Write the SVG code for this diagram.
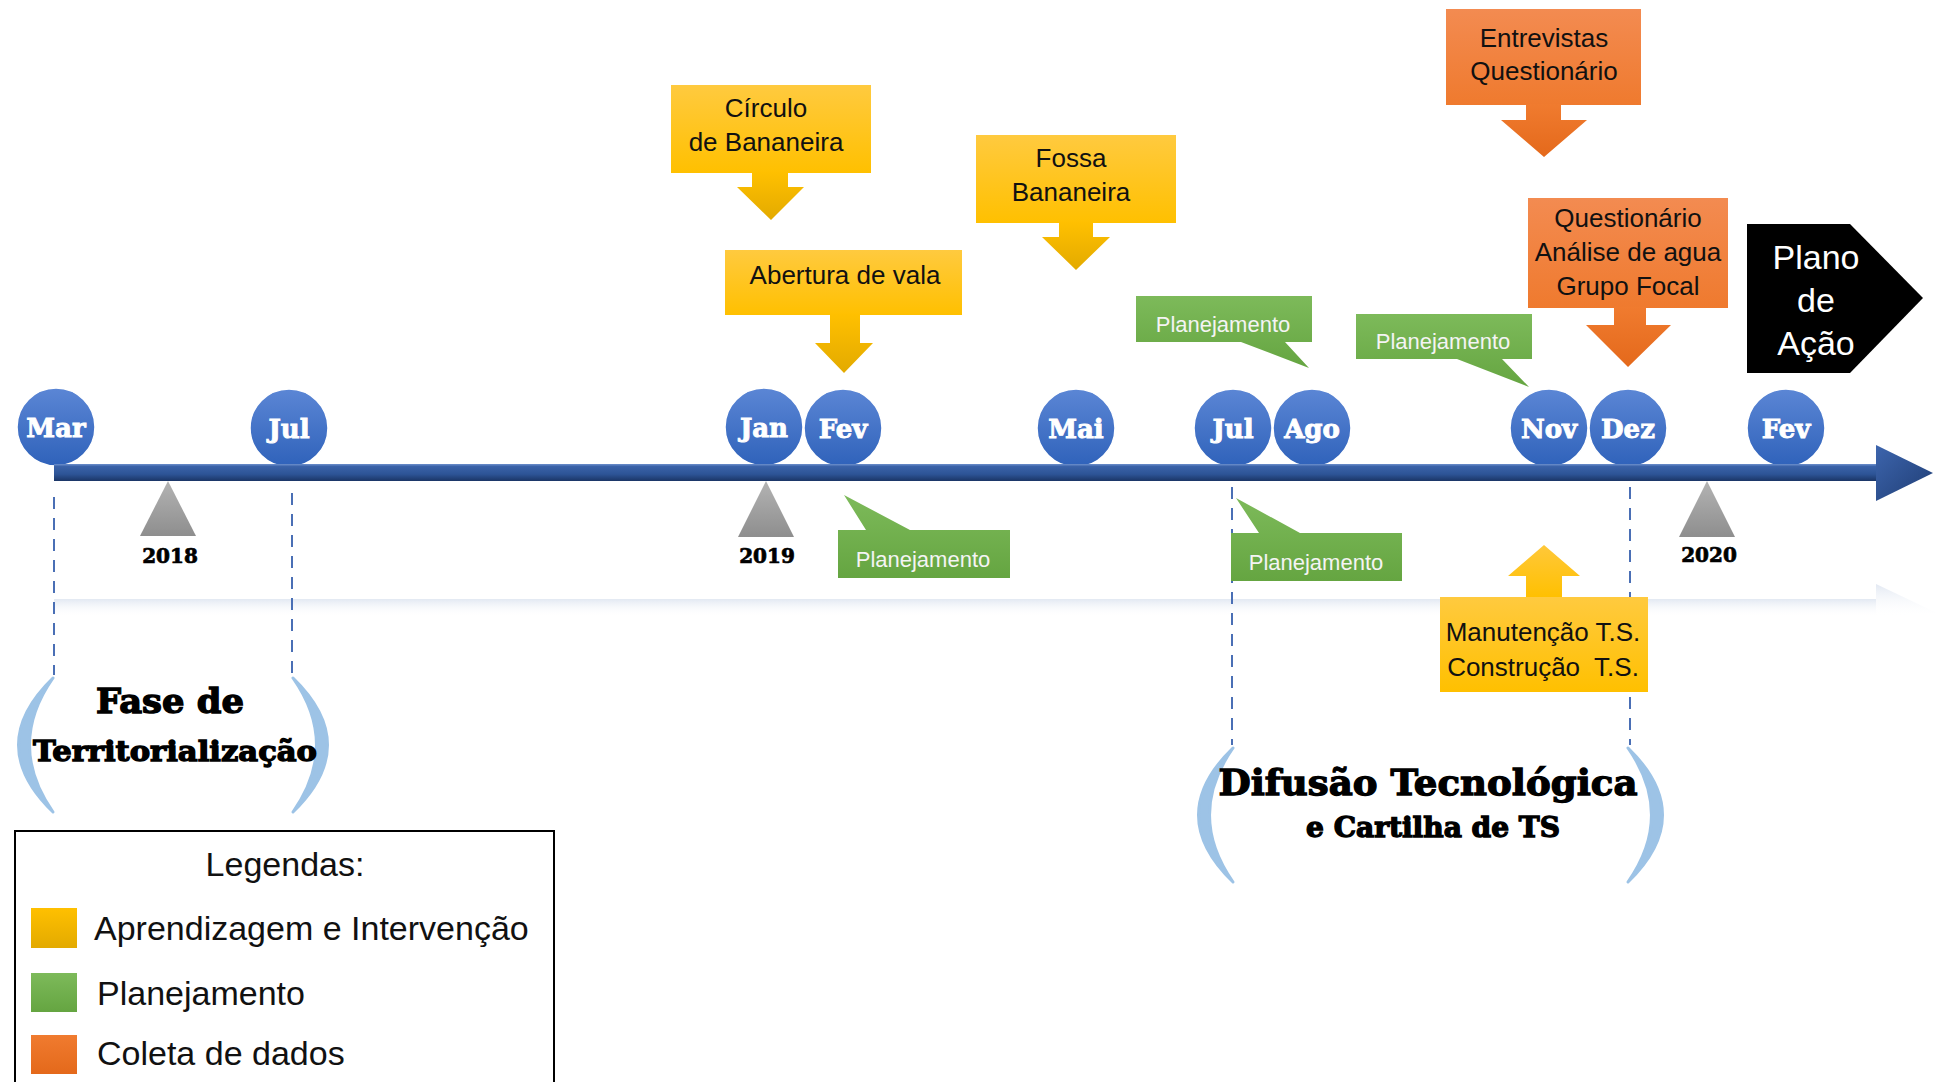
<svg xmlns="http://www.w3.org/2000/svg" width="1941" height="1082" viewBox="0 0 1941 1082">
  <defs>
    <linearGradient id="gYellow" x1="0" y1="0" x2="0" y2="1">
      <stop offset="0" stop-color="#ffca3f"/>
      <stop offset="1" stop-color="#ffc000"/>
    </linearGradient>
    <linearGradient id="gYellowArrow" x1="0" y1="0" x2="0" y2="1">
      <stop offset="0" stop-color="#ffc000"/>
      <stop offset="1" stop-color="#e3aa00"/>
    </linearGradient>
    <linearGradient id="gYellowUp" x1="0" y1="1" x2="0" y2="0">
      <stop offset="0" stop-color="#ffc000"/>
      <stop offset="1" stop-color="#ffc83a"/>
    </linearGradient>
    <linearGradient id="gOrange" x1="0" y1="0" x2="0" y2="1">
      <stop offset="0" stop-color="#f38b51"/>
      <stop offset="1" stop-color="#ef7a2e"/>
    </linearGradient>
    <linearGradient id="gOrangeArrow" x1="0" y1="0" x2="0" y2="1">
      <stop offset="0" stop-color="#f07b2f"/>
      <stop offset="1" stop-color="#e4691b"/>
    </linearGradient>
    <linearGradient id="gGreen" x1="0" y1="0" x2="0" y2="1">
      <stop offset="0" stop-color="#7dba5a"/>
      <stop offset="1" stop-color="#65a541"/>
    </linearGradient>
    <linearGradient id="gBlue" x1="0" y1="0" x2="0" y2="1">
      <stop offset="0" stop-color="#5b86d5"/>
      <stop offset="1" stop-color="#2f62ba"/>
    </linearGradient>
    <linearGradient id="gBar" x1="0" y1="0" x2="0" y2="1">
      <stop offset="0" stop-color="#6c8fcc"/>
      <stop offset="0.15" stop-color="#3a62a8"/>
      <stop offset="0.6" stop-color="#2d5496"/>
      <stop offset="1" stop-color="#1b3566"/>
    </linearGradient>
    <linearGradient id="gHead" x1="0" y1="0" x2="1" y2="1">
      <stop offset="0" stop-color="#3d65ad"/>
      <stop offset="1" stop-color="#1f3d74"/>
    </linearGradient>
    <linearGradient id="gGray" x1="0" y1="0" x2="0" y2="1">
      <stop offset="0" stop-color="#b3b3b3"/>
      <stop offset="1" stop-color="#8e8e8e"/>
    </linearGradient>
    <linearGradient id="gShadow" x1="0" y1="0" x2="0" y2="1">
      <stop offset="0" stop-color="#dfe6f1" stop-opacity="0.9"/>
      <stop offset="1" stop-color="#ffffff" stop-opacity="0"/>
    </linearGradient>
    <style>
      .box { font-family: "Liberation Sans", Arial, sans-serif; font-size: 26px; fill: #111; text-anchor: middle; }
      .plan { font-family: "Liberation Sans", Arial, sans-serif; font-size: 22px; fill: #f4f4f4; text-anchor: middle; }
      .mon { font-family: "DejaVu Serif", serif; font-weight: bold; font-size: 26px; fill: #fff; stroke: #fff; stroke-width: 0.9; text-anchor: middle; }
      .yr { font-family: "DejaVu Serif", serif; font-weight: bold; font-size: 20px; fill: #000; stroke: #000; stroke-width: 0.7; text-anchor: middle; }
      .phase { font-family: "DejaVu Serif", serif; font-weight: bold; fill: #000; stroke: #000; stroke-width: 1.3; text-anchor: middle; }
      .leg { font-family: "Liberation Sans", Arial, sans-serif; font-size: 34px; fill: #111; }
      .dash { stroke: #4a6fb5; stroke-width: 2; stroke-dasharray: 12 9; fill: none; }
      .brace { fill: #9dc3e6; stroke: #9dc3e6; stroke-width: 3; stroke-linejoin: round; }
      .circ { fill: url(#gBlue); stroke: #ffffff; stroke-width: 1.5; }
    </style>
  </defs>

  <rect width="1941" height="1082" fill="#ffffff"/>

  <!-- soft reflection of the timeline -->
  <g id="reflection">
    <rect x="54" y="599" width="1822" height="18" fill="url(#gShadow)"/>
    <polygon points="1876,584 1937,613 1876,617" fill="url(#gShadow)"/>
  </g>

  <!-- dashed guides and phase brackets -->
  <g id="connectors">
    <line class="dash" x1="54" y1="497" x2="54" y2="675"/>
    <line class="dash" x1="292" y1="493" x2="292" y2="677"/>
    <line class="dash" x1="1232" y1="487" x2="1232" y2="745"/>
    <line class="dash" x1="1630" y1="487" x2="1630" y2="745"/>
    <path class="brace" d="M53,678 Q-16,745 53,812 Q6,745 53,678 Z"/>
    <path class="brace" d="M293,678 Q362,745 293,812 Q340,745 293,678 Z"/>
    <path class="brace" d="M1233,748 Q1164,815 1233,882 Q1186,815 1233,748 Z"/>
    <path class="brace" d="M1628,748 Q1697,815 1628,882 Q1675,815 1628,748 Z"/>
  </g>

  <!-- month markers -->
  <g id="months">
    <g id="m-mar"><circle class="circ" cx="56" cy="427" r="39"/><text class="mon" x="56" y="437">Mar</text></g>
    <g id="m-jul18"><circle class="circ" cx="289" cy="428" r="39"/><text class="mon" x="289" y="438">Jul</text></g>
    <g id="m-jan"><circle class="circ" cx="764" cy="427" r="39"/><text class="mon" x="764" y="437">Jan</text></g>
    <g id="m-fev19"><circle class="circ" cx="843" cy="428" r="39"/><text class="mon" x="843" y="438">Fev</text></g>
    <g id="m-mai"><circle class="circ" cx="1076" cy="428" r="39"/><text class="mon" x="1076" y="438">Mai</text></g>
    <g id="m-jul19"><circle class="circ" cx="1233" cy="428" r="39"/><text class="mon" x="1233" y="438">Jul</text></g>
    <g id="m-ago"><circle class="circ" cx="1312" cy="428" r="39"/><text class="mon" x="1312" y="438">Ago</text></g>
    <g id="m-nov"><circle class="circ" cx="1549" cy="428" r="39"/><text class="mon" x="1549" y="438">Nov</text></g>
    <g id="m-dez"><circle class="circ" cx="1628" cy="428" r="39"/><text class="mon" x="1628" y="438">Dez</text></g>
    <g id="m-fev20"><circle class="circ" cx="1786" cy="428" r="39"/><text class="mon" x="1786" y="438">Fev</text></g>
  </g>

  <!-- timeline axis -->
  <g id="axis">
    <rect x="54" y="464" width="1824" height="17" fill="url(#gBar)"/>
    <polygon points="1876,445 1933,473 1876,501" fill="url(#gHead)"/>
  </g>

  <!-- year markers -->
  <g id="years">
    <g id="y2018"><polygon points="168,481 196,536 140,536" fill="url(#gGray)"/><text class="yr" x="170" y="563">2018</text></g>
    <g id="y2019"><polygon points="766,481 794,537 738,537" fill="url(#gGray)"/><text class="yr" x="767" y="563">2019</text></g>
    <g id="y2020"><polygon points="1707,481 1735,537 1679,537" fill="url(#gGray)"/><text class="yr" x="1709" y="562">2020</text></g>
  </g>

  <!-- learning / intervention events -->
  <g id="circulo">
    <rect x="671" y="85" width="200" height="88" fill="url(#gYellow)"/>
    <polygon points="752,172 788,172 788,187 804,187 771,220 737,187 752,187" fill="url(#gYellowArrow)"/>
    <text class="box" x="766" y="117">Círculo</text>
    <text class="box" x="766" y="151">de Bananeira</text>
  </g>
  <g id="abertura">
    <rect x="725" y="250" width="237" height="65" fill="url(#gYellow)"/>
    <polygon points="830,314 860,314 860,343 873,343 844,373 815,343 830,343" fill="url(#gYellowArrow)"/>
    <text class="box" x="845" y="284">Abertura de vala</text>
  </g>
  <g id="fossa">
    <rect x="976" y="135" width="200" height="88" fill="url(#gYellow)"/>
    <polygon points="1059,222 1093,222 1093,237 1110,237 1076,270 1042,237 1059,237" fill="url(#gYellowArrow)"/>
    <text class="box" x="1071" y="167">Fossa</text>
    <text class="box" x="1071" y="201">Bananeira</text>
  </g>
  <g id="manutencao">
    <polygon points="1544,545 1580,576 1562,576 1562,598 1526,598 1526,576 1508,576" fill="url(#gYellowUp)"/>
    <rect x="1440" y="597" width="208" height="95" fill="url(#gYellow)"/>
    <text class="box" x="1543" y="641">Manutenção T.S.</text>
    <text class="box" x="1543" y="676" xml:space="preserve">Construção  T.S.</text>
  </g>

  <!-- data collection events -->
  <g id="entrevistas">
    <rect x="1446" y="9" width="195" height="96" fill="url(#gOrange)"/>
    <polygon points="1526,104 1561,104 1561,120 1587,120 1544,157 1501,120 1526,120" fill="url(#gOrangeArrow)"/>
    <text class="box" x="1544" y="47">Entrevistas</text>
    <text class="box" x="1544" y="80">Questionário</text>
  </g>
  <g id="questionario">
    <rect x="1528" y="198" width="200" height="110" fill="url(#gOrange)"/>
    <polygon points="1614,307 1646,307 1646,325 1671,325 1628,367 1586,325 1614,325" fill="url(#gOrangeArrow)"/>
    <text class="box" x="1628" y="227">Questionário</text>
    <text class="box" x="1628" y="261">Análise de agua</text>
    <text class="box" x="1628" y="295">Grupo Focal</text>
  </g>

  <!-- planning callouts -->
  <g id="plan-jul">
    <path d="M1136,296 H1312 V342 H1285 L1309,368 L1241,342 H1136 Z" fill="url(#gGreen)"/>
    <text class="plan" x="1223" y="332">Planejamento</text>
  </g>
  <g id="plan-nov">
    <path d="M1356,314 H1532 V359 H1502 L1529,387 L1457,359 H1356 Z" fill="url(#gGreen)"/>
    <text class="plan" x="1443" y="349">Planejamento</text>
  </g>
  <g id="plan-fev">
    <path d="M838,530 H866 L844,495 L910,530 H1010 V578 H838 Z" fill="url(#gGreen)"/>
    <text class="plan" x="923" y="567">Planejamento</text>
  </g>
  <g id="plan-jul2">
    <path d="M1231,533 H1259 L1236,498 L1300,533 H1402 V581 H1231 Z" fill="url(#gGreen)"/>
    <text class="plan" x="1316" y="570">Planejamento</text>
  </g>

  <!-- final stage -->
  <g id="plano">
    <polygon points="1747,224 1850,224 1923,298 1850,373 1747,373" fill="#000"/>
    <g font-family="Liberation Sans, Arial, sans-serif" font-size="34" fill="#fff" text-anchor="middle">
      <text x="1816" y="269">Plano</text>
      <text x="1816" y="312">de</text>
      <text x="1816" y="355">Ação</text>
    </g>
  </g>

  <!-- phase titles -->
  <g id="fase-territorializacao">
    <text class="phase" x="170" y="713" font-size="33" textLength="148" lengthAdjust="spacingAndGlyphs">Fase de</text>
    <text class="phase" x="175" y="761" font-size="28" textLength="284" lengthAdjust="spacingAndGlyphs">Territorialização</text>
  </g>
  <g id="fase-difusao">
    <text class="phase" x="1428" y="795" font-size="36" textLength="419" lengthAdjust="spacingAndGlyphs">Difusão Tecnológica</text>
    <text class="phase" x="1433" y="837" font-size="27" textLength="254" lengthAdjust="spacingAndGlyphs">e Cartilha de TS</text>
  </g>

  <!-- legend -->
  <g id="legend">
    <rect x="15" y="831" width="539" height="262" fill="#fff" stroke="#000" stroke-width="2"/>
    <text class="leg" x="285" y="876" text-anchor="middle">Legendas:</text>
    <rect x="31" y="908" width="46" height="40" fill="url(#gYellowArrow)"/>
    <text class="leg" x="94" y="940">Aprendizagem e Intervenção</text>
    <rect x="31" y="973" width="46" height="39" fill="url(#gGreen)"/>
    <text class="leg" x="97" y="1005">Planejamento</text>
    <rect x="31" y="1035" width="46" height="39" fill="url(#gOrangeArrow)"/>
    <text class="leg" x="97" y="1065" font-size="33">Coleta de dados</text>
  </g>
</svg>
